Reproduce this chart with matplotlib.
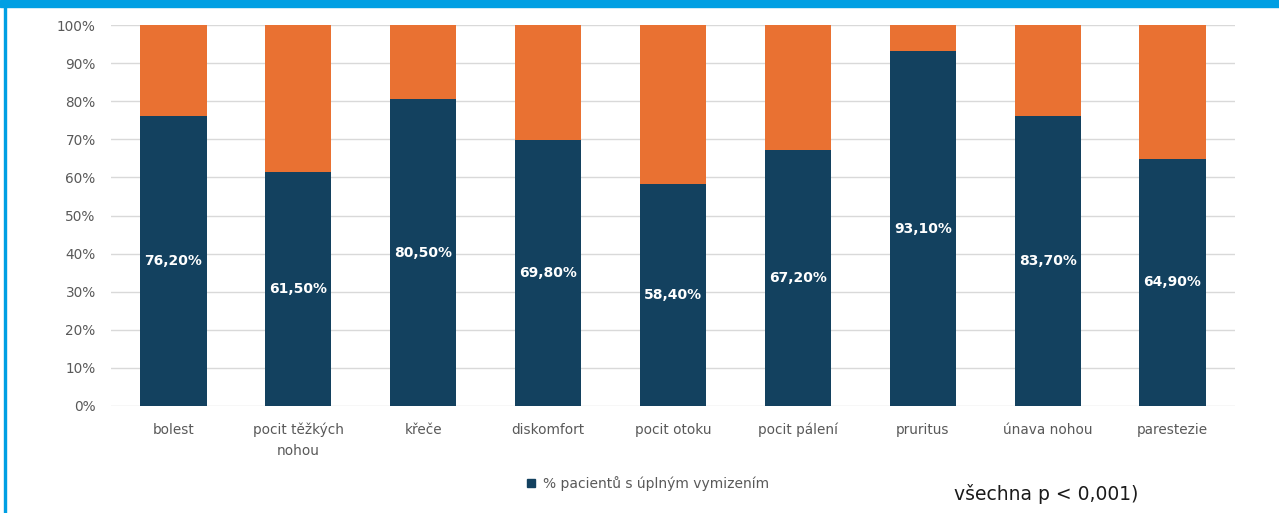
import matplotlib
matplotlib.use('Agg')
import matplotlib.pyplot as plt
from matplotlib.patches import Rectangle
from matplotlib.lines import Line2D

plt.rcParams['font.family'] = ['DejaVu Sans']

categories = ['bolest', 'pocit těžkých\nnohou', 'křeče', 'diskomfort', 'pocit otoku',
              'pocit pálení', 'pruritus', 'únava nohou', 'parestezie']
# bar heights as drawn in the original (únava nohou bar is drawn lower than its label)
vymizeni = [76.2, 61.5, 80.5, 69.8, 58.4, 67.2, 93.1, 76.2, 64.9]
labels = ['76,20%', '61,50%', '80,50%', '69,80%', '58,40%', '67,20%', '93,10%', '83,70%', '64,90%']
zbytek = [100 - v for v in vymizeni]

navy = '#13415f'
orange = '#e97132'

fig = plt.figure(figsize=(12.79, 5.13), dpi=100)
ax = fig.add_axes([0.0868, 0.2086, 0.8788, 0.7424])

x = range(len(categories))
ax.bar(x, vymizeni, width=0.53, color=navy, zorder=3)
ax.bar(x, zbytek, width=0.53, bottom=vymizeni, color=orange, zorder=3)

for i, (v, lab) in enumerate(zip(vymizeni, labels)):
    ax.text(i, v / 2, lab, ha='center', va='center', color='white',
            fontsize=10, fontweight='bold', zorder=4)

ax.set_xlim(-0.5, len(categories) - 0.5)
ax.set_ylim(0, 100)
ax.set_yticks(range(0, 101, 10))
ax.set_yticklabels(['%d%%' % t for t in range(0, 101, 10)])
ax.set_xticks(list(x))
ax.set_xticklabels(categories, linespacing=1.6)
ax.tick_params(axis='both', length=0, labelsize=9.8, colors='#595959')
ax.tick_params(axis='y', pad=11)
ax.tick_params(axis='x', pad=12)
ax.grid(axis='y', color='#d9d9d9', linewidth=1, zorder=0)
for s in ax.spines.values():
    s.set_visible(False)

handle = Line2D([], [], marker='s', linestyle='none', color=navy, markersize=6)
fig.legend([handle], ['% pacientů s úplným vymizením'], loc='center',
           bbox_to_anchor=(0.503, 0.057), frameon=False, fontsize=10,
           labelcolor='#595959', handletextpad=-0.1)

fig.text(0.746, 0.037, 'všechna p < 0,001)', fontsize=13.5, color='#1a1a1a', va='center')

# frame in blue
fig.patches.append(Rectangle((0, 1 - 7 / 513), 1, 7 / 513, transform=fig.transFigure,
                             color='#009fe3', zorder=10))
fig.patches.append(Rectangle((4 / 1279, 0), 1.5 / 1279, 1, transform=fig.transFigure,
                             color='#009fe3', zorder=10))

fig.savefig('out.png', dpi=100)
